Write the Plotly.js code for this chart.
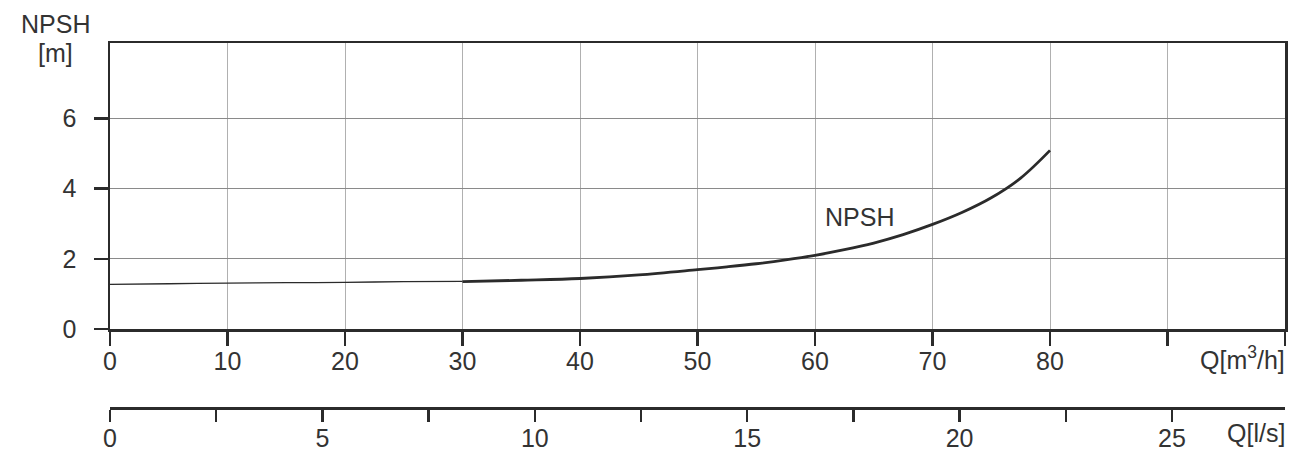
<!DOCTYPE html>
<html>
<head>
<meta charset="utf-8">
<script src="https://cdn.plot.ly/plotly-3.0.1.min.js"></script>
<style>html,body{margin:0;padding:0;background:#fff;}#chart{width:1290px;height:454px;}</style>
</head>
<body>
<div id="chart"></div>
<script>
// Flow Q [m3/h] and NPSH [m]
var qLow = [0, 5, 10, 15, 20, 25, 30];
var npshLow = [1.27, 1.29, 1.31, 1.32, 1.33, 1.35, 1.36];
var qHigh = [30, 35, 40, 45, 50, 52.5, 55, 57.5, 60, 62.5, 65, 67.5, 70, 72.5, 75, 77.5, 80];
var npshHigh = [1.35, 1.39, 1.44, 1.54, 1.69, 1.77, 1.86, 1.97, 2.10, 2.26, 2.45, 2.69, 2.98, 3.32, 3.74, 4.30, 5.09];

var xTickVals = [0, 10, 20, 30, 40, 50, 60, 70, 80, 90, 100];
var xTickText = ['0', '10', '20', '30', '40', '50', '60', '70', '80', ' ', ' '];
var yTickVals = [0, 2, 4, 6];
var x2TickVals = [0, 2.5, 5, 7.5, 10, 12.5, 15, 17.5, 20, 22.5, 25];
var x2TickText = ['0', ' ', '5', ' ', '10', ' ', '15', ' ', '20', ' ', '25'];

var dark = '#2b2b2b';
var txt = '#333333';
var font = 'Liberation Sans, Arial, sans-serif';

var traces = [
  {x: qLow, y: npshLow, mode: 'lines', line: {color: dark, width: 1.3, shape: 'spline', smoothing: 1}, showlegend: false, hoverinfo: 'skip'},
  {x: qHigh, y: npshHigh, mode: 'lines', line: {color: dark, width: 2.8, shape: 'spline', smoothing: 1}, showlegend: false, hoverinfo: 'skip'},
  {x: [0], y: [0], xaxis: 'x2', yaxis: 'y', mode: 'markers', marker: {opacity: 0}, showlegend: false, hoverinfo: 'skip'}
];

var layout = {
  width: 1290, height: 454,
  margin: {l: 110, r: 5, t: 43, b: 46},
  paper_bgcolor: '#fff', plot_bgcolor: '#fff',
  font: {family: font, size: 25, color: txt},
  showlegend: false,
  xaxis: {
    range: [0, 100], domain: [0, 1], anchor: 'y',
    showline: true, linecolor: dark, linewidth: 2.5, mirror: true,
    ticks: 'outside', ticklen: 14, tickwidth: 2.5, tickcolor: dark,
    tickvals: xTickVals, ticktext: xTickText, ticklabelstandoff: -6,
    showgrid: true, gridcolor: '#b0b0b0', gridwidth: 1,
    zeroline: false, tickfont: {size: 25, color: txt, family: font}
  },
  yaxis: {
    range: [0, 8.15], domain: [0.2164, 1], anchor: 'x',
    showline: true, linecolor: dark, linewidth: 2.5, mirror: true,
    ticks: 'outside', ticklen: 14, tickwidth: 2.5, tickcolor: dark,
    tickvals: yTickVals, ticklabelstandoff: 12,
    showgrid: true, gridcolor: '#8a8a8a', gridwidth: 1,
    zeroline: false, tickfont: {size: 25, color: txt, family: font}
  },
  xaxis2: {
    overlaying: 'x', anchor: 'free', position: 0, side: 'bottom',
    range: [0, 27.66],
    showline: true, linecolor: dark, linewidth: 2.5,
    ticks: 'outside', ticklen: 12, tickwidth: 2.5, tickcolor: dark,
    tickvals: x2TickVals, ticktext: x2TickText, ticklabelstandoff: -5,
    showgrid: false, zeroline: false, tickfont: {size: 25, color: txt, family: font}
  },
  annotations: [
    {xref: 'paper', yref: 'paper', x: -0.046, y: 1.0137, text: 'NPSH', showarrow: false, xanchor: 'center', yanchor: 'middle', yshift: 14, font: {size: 25, color: txt, family: font}},
    {xref: 'paper', yref: 'paper', x: -0.046, y: 1.0137, text: '[m]', showarrow: false, xanchor: 'center', yanchor: 'middle', yshift: -15, font: {size: 25, color: txt, family: font}},
    {xref: 'x', yref: 'y', x: 63.8, y: 3.18, text: 'NPSH', showarrow: false, xanchor: 'center', yanchor: 'middle', font: {size: 25, color: txt, family: font}},
    {xref: 'paper', yref: 'paper', x: 1.0017, y: 0.1315, text: 'Q[m<sup>3</sup>/h]', showarrow: false, xanchor: 'right', yanchor: 'middle', yshift: 2, font: {size: 25, color: txt, family: font}},
    {xref: 'paper', yref: 'paper', x: 1.0017, y: -0.074, text: 'Q[l/s]', showarrow: false, xanchor: 'right', yanchor: 'middle', yshift: 2, font: {size: 25, color: txt, family: font}}
  ]
};

Plotly.newPlot('chart', traces, layout, {staticPlot: true, displayModeBar: false});
</script>
</body>
</html>
